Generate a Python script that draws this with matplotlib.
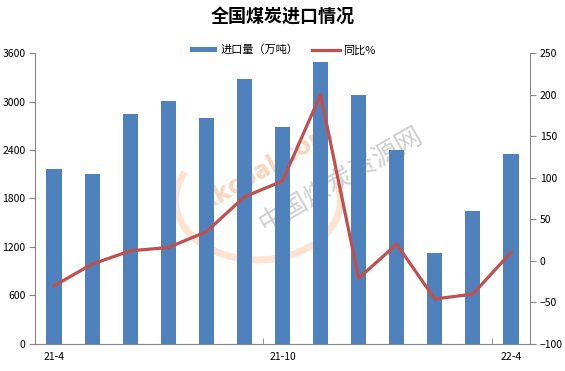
import matplotlib
matplotlib.use('Agg')
import matplotlib.pyplot as plt
from matplotlib.patches import Arc
import numpy as np

plt.rcParams['font.family'] = ['Noto Sans CJK SC', 'DejaVu Sans']

months = ['21-4', '21-5', '21-6', '21-7', '21-8', '21-9', '21-10',
          '21-11', '21-12', '22-1', '22-2', '22-3', '22-4']
imports = [2170, 2100, 2840, 3010, 2800, 3280, 2690, 3490, 3080, 2400, 1120, 1640, 2345]
yoy = [-30, -4, 12, 16, 35, 77, 96, 200, -21, 20, -46, -40, 10]

BAR_COLOR = '#4F81BD'
LINE_COLOR = '#C0504D'
AXIS_COLOR = '#868686'

W, H = 565, 371
fig = plt.figure(figsize=(W / 100, H / 100), dpi=100)
ax = fig.add_axes([0.062, 0.073, 0.876, 0.784])
ax2 = ax.twinx()

x = np.arange(len(months))
bars = ax.bar(x, imports, width=0.4, color=BAR_COLOR, label='进口量（万吨）', zorder=2)
line, = ax2.plot(x, yoy, color=LINE_COLOR, linewidth=2.3, label='同比%', zorder=3)

# watermark, behind the bars
wm = fig.transFigure
ax.add_patch(Arc((258 / W, 1 - 200 / H), 165 / W, 120 / H, theta1=150, theta2=20,
                 transform=wm, color='#fde3d0', linewidth=5, zorder=1))
ax.text(268 / W, 1 - 168 / H, 'xkcoal.com', transform=wm, color='#fbd5bc', fontsize=17,
        rotation=30, ha='center', va='center', fontweight='bold', zorder=1,
        family='DejaVu Sans')
ax.text(341 / W, 1 - 180 / H, '中国煤炭资源网', transform=wm, color='#cfcfcf', fontsize=19,
        rotation=30, ha='center', va='center', zorder=1)

ax.set_xlim(-0.5, len(months) - 0.5)
ax.set_ylim(0, 3600)
ax.set_yticks(np.arange(0, 3601, 600))
ax2.set_ylim(-100, 250)
ax2.set_yticks(np.arange(-100, 251, 50))

ax.set_xticks([0, 6, 12])
ax.set_xticklabels([months[0], months[6], months[12]])
ax.set_xticks([5.5, 11.5], minor=True)
ax.tick_params(axis='x', which='major', length=0, pad=6)
ax.tick_params(axis='x', which='minor', length=4, color=AXIS_COLOR, direction='in')

for a in (ax, ax2):
    for s in a.spines.values():
        s.set_color(AXIS_COLOR)
    a.spines['top'].set_visible(False)
    a.tick_params(axis='y', length=4, color=AXIS_COLOR, labelsize=7.5, pad=3)
ax.tick_params(axis='x', labelsize=7.5)
ax.spines['right'].set_visible(False)
ax2.spines['left'].set_visible(False)
ax2.spines['bottom'].set_visible(False)

fig.text(0.5, 0.955, '全国煤炭进口情况', ha='center', va='center', fontsize=13, fontweight='bold')

fig.legend([bars, line], ['进口量（万吨）', '同比%'], loc='center', bbox_to_anchor=(0.5, 0.865),
           ncol=2, frameon=False, fontsize=8, handlelength=2.5, handleheight=0.3,
           columnspacing=1.2, handletextpad=0.3)

fig.savefig('out.png', dpi=100)
